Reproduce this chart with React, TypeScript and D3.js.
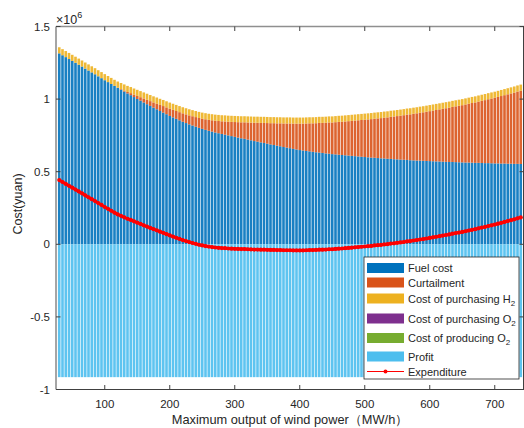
import React from 'react';
import * as d3 from 'd3';

// x categories: maximum output of wind power (MW/h)
const windOutput: number[] = d3.range(30, 741, 5);

// values in ×10^6 yuan
const fuelCost: number[] = [
  1.315,1.302,1.289,1.276,1.263,1.250,1.237,1.224,1.210,1.197,
  1.184,1.171,1.157,1.144,1.130,1.117,1.104,1.091,1.078,1.065,
  1.052,1.039,1.027,1.014,1.001,0.989,0.977,0.965,0.953,0.941,
  0.930,0.918,0.907,0.896,0.884,0.874,0.864,0.854,0.844,0.835,
  0.826,0.818,0.810,0.802,0.795,0.788,0.782,0.776,0.770,0.765,
  0.760,0.755,0.750,0.745,0.740,0.735,0.730,0.726,0.721,0.716,
  0.711,0.707,0.702,0.698,0.693,0.688,0.684,0.679,0.675,0.670,
  0.666,0.662,0.657,0.653,0.649,0.646,0.643,0.640,0.637,0.634,
  0.632,0.629,0.626,0.624,0.621,0.619,0.617,0.615,0.613,0.611,
  0.609,0.607,0.605,0.603,0.601,0.599,0.597,0.596,0.594,0.592,
  0.591,0.589,0.588,0.586,0.585,0.583,0.582,0.581,0.579,0.578,
  0.577,0.576,0.575,0.574,0.573,0.572,0.571,0.570,0.569,0.568,
  0.567,0.567,0.566,0.565,0.564,0.563,0.563,0.562,0.561,0.561,
  0.560,0.559,0.559,0.558,0.557,0.557,0.556,0.556,0.555,0.555,
  0.554,0.554,0.553,
];

const curtailment: number[] = [
  0,0,0,0,0,0,0,0,0,0,
  0,0,0,0,0,0,0,0,0.001,0.004,
  0.007,0.010,0.014,0.017,0.021,0.024,0.027,0.030,0.033,0.036,
  0.039,0.042,0.045,0.047,0.050,0.052,0.054,0.056,0.058,0.060,
  0.062,0.064,0.066,0.068,0.070,0.073,0.075,0.078,0.081,0.084,
  0.087,0.091,0.094,0.098,0.102,0.106,0.110,0.114,0.118,0.122,
  0.126,0.130,0.134,0.138,0.142,0.146,0.150,0.154,0.158,0.162,
  0.166,0.170,0.174,0.178,0.182,0.185,0.189,0.193,0.196,0.200,
  0.204,0.207,0.211,0.215,0.218,0.222,0.226,0.229,0.233,0.237,
  0.241,0.245,0.249,0.253,0.257,0.261,0.265,0.269,0.273,0.277,
  0.281,0.285,0.290,0.294,0.298,0.303,0.307,0.312,0.316,0.321,
  0.325,0.330,0.334,0.339,0.344,0.349,0.354,0.359,0.364,0.369,
  0.374,0.379,0.384,0.389,0.394,0.400,0.405,0.411,0.416,0.422,
  0.428,0.434,0.440,0.446,0.452,0.458,0.465,0.471,0.478,0.484,
  0.491,0.498,0.505,
];

const purchaseH2: number[] = [
  0.042,0.042,0.042,0.042,0.042,0.042,0.042,0.042,0.042,0.042,
  0.042,0.042,0.042,0.042,0.042,0.042,0.042,0.042,0.042,0.042,
  0.042,0.042,0.042,0.042,0.042,0.042,0.042,0.042,0.042,0.042,
  0.042,0.042,0.042,0.042,0.042,0.042,0.042,0.042,0.042,0.042,
  0.042,0.042,0.042,0.042,0.042,0.042,0.042,0.042,0.042,0.042,
  0.042,0.042,0.042,0.042,0.042,0.042,0.042,0.042,0.042,0.042,
  0.042,0.042,0.042,0.042,0.042,0.042,0.042,0.042,0.042,0.042,
  0.042,0.042,0.042,0.042,0.042,0.042,0.042,0.042,0.042,0.042,
  0.042,0.042,0.042,0.042,0.042,0.042,0.042,0.042,0.042,0.042,
  0.042,0.042,0.042,0.042,0.042,0.042,0.042,0.042,0.042,0.042,
  0.042,0.042,0.042,0.042,0.042,0.042,0.042,0.042,0.042,0.042,
  0.042,0.042,0.042,0.042,0.042,0.042,0.042,0.042,0.042,0.042,
  0.042,0.042,0.042,0.042,0.042,0.042,0.042,0.042,0.042,0.042,
  0.042,0.042,0.042,0.042,0.042,0.042,0.042,0.042,0.042,0.042,
  0.042,0.042,0.042,
];

const profit: number[] = [
  -0.915,-0.915,-0.915,-0.915,-0.915,-0.915,-0.915,-0.915,-0.915,-0.915,
  -0.915,-0.915,-0.915,-0.915,-0.915,-0.915,-0.915,-0.915,-0.915,-0.915,
  -0.915,-0.915,-0.915,-0.915,-0.915,-0.915,-0.915,-0.915,-0.915,-0.915,
  -0.915,-0.915,-0.915,-0.915,-0.915,-0.915,-0.915,-0.915,-0.915,-0.915,
  -0.915,-0.915,-0.915,-0.915,-0.915,-0.915,-0.915,-0.915,-0.915,-0.915,
  -0.915,-0.915,-0.915,-0.915,-0.915,-0.915,-0.915,-0.915,-0.915,-0.915,
  -0.915,-0.915,-0.915,-0.915,-0.915,-0.915,-0.915,-0.915,-0.915,-0.915,
  -0.915,-0.915,-0.915,-0.915,-0.915,-0.915,-0.915,-0.915,-0.915,-0.915,
  -0.915,-0.915,-0.915,-0.915,-0.915,-0.915,-0.915,-0.915,-0.915,-0.915,
  -0.915,-0.915,-0.915,-0.915,-0.915,-0.915,-0.915,-0.915,-0.915,-0.915,
  -0.915,-0.915,-0.915,-0.915,-0.915,-0.915,-0.915,-0.915,-0.915,-0.915,
  -0.915,-0.915,-0.915,-0.915,-0.915,-0.915,-0.915,-0.915,-0.915,-0.915,
  -0.915,-0.915,-0.915,-0.915,-0.915,-0.915,-0.915,-0.915,-0.915,-0.915,
  -0.915,-0.915,-0.915,-0.915,-0.915,-0.915,-0.915,-0.915,-0.915,-0.915,
  -0.915,-0.915,-0.915,
];

const expenditure: number[] = [
  0.442,0.429,0.416,0.403,0.390,0.377,0.364,0.351,0.337,0.324,
  0.311,0.298,0.284,0.271,0.257,0.244,0.231,0.218,0.206,0.196,
  0.186,0.176,0.168,0.158,0.149,0.140,0.131,0.122,0.113,0.104,
  0.096,0.087,0.079,0.070,0.061,0.053,0.045,0.037,0.029,0.022,
  0.015,0.009,0.003,-0.003,-0.008,-0.012,-0.016,-0.019,-0.022,-0.024,
  -0.026,-0.027,-0.029,-0.030,-0.031,-0.032,-0.033,-0.033,-0.034,-0.035,
  -0.036,-0.036,-0.037,-0.037,-0.038,-0.039,-0.039,-0.040,-0.040,-0.041,
  -0.041,-0.041,-0.042,-0.042,-0.042,-0.042,-0.041,-0.040,-0.040,-0.039,
  -0.037,-0.037,-0.036,-0.034,-0.034,-0.032,-0.030,-0.029,-0.027,-0.025,
  -0.023,-0.021,-0.019,-0.017,-0.015,-0.013,-0.011,-0.008,-0.006,-0.004,
  -0.001,0.001,0.005,0.007,0.010,0.013,0.016,0.020,0.022,0.026,
  0.029,0.033,0.036,0.040,0.044,0.048,0.052,0.056,0.060,0.064,
  0.068,0.073,0.077,0.081,0.085,0.090,0.095,0.100,0.104,0.110,
  0.115,0.120,0.126,0.131,0.136,0.142,0.148,0.154,0.160,0.166,
  0.172,0.179,0.185,
];

const xTicks: number[] = [100, 200, 300, 400, 500, 600, 700];
const yTicks: number[] = [-1, -0.5, 0, 0.5, 1, 1.5];

const seriesKeys = ['fuel', 'curt', 'h2'];
const seriesColors = ['#0072BD', '#D95319', '#EDB120'];

const legendItems = [
  { label: 'Fuel cost', sub: '', color: '#0072BD', cy: 268 },
  { label: 'Curtailment', sub: '', color: '#D95319', cy: 282.5 },
  { label: 'Cost of purchasing H', sub: '2', color: '#EDB120', cy: 298.5 },
  { label: 'Cost of purchasing O', sub: '2', color: '#7E2F8E', cy: 318.5 },
  { label: 'Cost of producing O', sub: '2', color: '#77AC30', cy: 338 },
  { label: 'Profit', sub: '', color: '#4DBEEE', cy: 356.5 },
];

const FONT = '"Liberation Sans", Arial, Helvetica, sans-serif';
const TXT = '#262626';

export default function App() {
  const W = 524, H = 428;
  const L = 56, R = 524, T = 26.5, B = 389.5;
  const x = d3.scaleLinear().domain([25, 745]).range([L, R]);
  const y = d3.scaleLinear().domain([-1, 1.5]).range([B, T]);
  const bw = (x(30) - x(25)) * 0.8;

  const rows = windOutput.map((w, i) => ({ w, fuel: fuelCost[i], curt: curtailment[i], h2: purchaseH2[i] }));
  const stacked = d3.stack<any>().keys(seriesKeys)(rows);

  const line = d3.line<number>()
    .x((_, i) => x(windOutput[i]))
    .y((d) => y(d))
    .curve(d3.curveLinear);

  const tl = 4.5;

  return (
    <svg width={W} height={H} style={{ position: 'absolute', left: 0, top: 0, background: '#fff' }} fontFamily={FONT}>
      <defs>
        <clipPath id="plotclip">
          <rect x={L} y={T} width={R - L} height={B - T} />
        </clipPath>
      </defs>
      <g clipPath="url(#plotclip)">
        {stacked.map((s, k) => (
          <g key={k} fill={seriesColors[k]} fillOpacity={0.9}>
            {s.map((d, i) => (
              <rect key={i} x={x(windOutput[i]) - bw / 2} width={bw}
                y={y(d[1])} height={Math.max(0, y(d[0]) - y(d[1]))} />
            ))}
          </g>
        ))}
        <g fill="#4DBEEE" fillOpacity={0.9}>
          {profit.map((p, i) => (
            <rect key={i} x={x(windOutput[i]) - bw / 2} width={bw} y={y(0)} height={y(p) - y(0)} />
          ))}
        </g>
        <path d={line(expenditure) || ''} fill="none" stroke="#FF0000" strokeWidth={3} strokeLinejoin="round" />
        <g fill="#FF0000">
          {expenditure.map((e, i) => (
            <circle key={i} cx={x(windOutput[i])} cy={y(e)} r={2.1} />
          ))}
        </g>
      </g>

      {/* axes box */}
      <line x1={L} x2={L} y1={T} y2={B} stroke="#8f8f8f" strokeWidth={1.6} />
      <line x1={L} x2={R} y1={T} y2={T} stroke="#8f8f8f" strokeWidth={1.6} />
      <line x1={L} x2={R} y1={B} y2={B} stroke="#404040" strokeWidth={1} />
      <line x1={R - 0.5} x2={R - 0.5} y1={T} y2={B} stroke="#404040" strokeWidth={1} />

      {/* x ticks */}
      {xTicks.map((t) => (
        <g key={t}>
          <line x1={x(t)} x2={x(t)} y1={B} y2={B - tl} stroke="#404040" strokeWidth={1} />
          <line x1={x(t)} x2={x(t)} y1={T} y2={T + tl} stroke="#404040" strokeWidth={1} />
          <text x={x(t)} y={407.5} fontSize={11.5} fill={TXT} textAnchor="middle">{t}</text>
        </g>
      ))}
      {/* y ticks */}
      {yTicks.map((t) => (
        <g key={t}>
          <line x1={L} x2={L + tl} y1={y(t)} y2={y(t)} stroke="#404040" strokeWidth={1} />
          <line x1={R} x2={R - tl} y1={y(t)} y2={y(t)} stroke="#404040" strokeWidth={1} />
          <text x={50} y={y(t) + 4} fontSize={11.5} fill={TXT} textAnchor="end">{String(t)}</text>
        </g>
      ))}

      {/* exponent */}
      <text x={56} y={23.5} fontSize={12.5} fill={TXT}>
        ×10<tspan fontSize={9} dy={-6}>6</tspan>
      </text>

      {/* axis labels */}
      <text x={290} y={424} fontSize={12.8} fill={TXT} textAnchor="middle">Maximum output of wind power（MW/h）</text>
      <text transform={`translate(22,204) rotate(-90)`} fontSize={12.5} fill={TXT} textAnchor="middle">Cost(yuan)</text>

      {/* legend */}
      <rect x={364} y={257} width={155} height={122} fill="#fff" stroke="#262626" strokeWidth={0.8} />
      {legendItems.map((it) => (
        <g key={it.label + it.sub}>
          <rect x={367} y={it.cy - 5} width={37} height={10} fill={it.color} />
          <text x={408} y={it.cy + 4} fontSize={11} fill={TXT}>
            {it.label}
            {it.sub ? <tspan fontSize={8} dy={3}>{it.sub}</tspan> : null}
          </text>
        </g>
      ))}
      <line x1={367} x2={404} y1={371.5} y2={371.5} stroke="#FF0000" strokeWidth={1} />
      <circle cx={385.5} cy={371.5} r={2} fill="#FF0000" />
      <text x={408} y={375.5} fontSize={11} fill={TXT}>Expenditure</text>
    </svg>
  );
}
